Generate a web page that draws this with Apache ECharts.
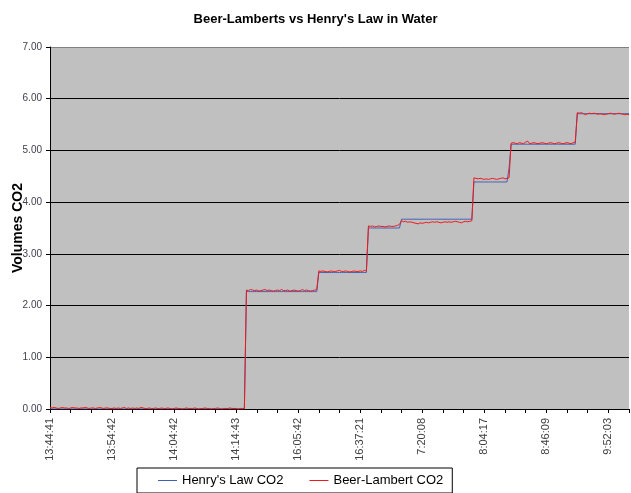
<!DOCTYPE html>
<html><head><meta charset="utf-8">
<script src="https://cdn.jsdelivr.net/npm/echarts@6/dist/echarts.min.js"></script>
<style>html,body{margin:0;padding:0;background:#fff}#c{width:631px;height:493px}</style>
</head><body><div id="c"></div>
<script>
// x tick labels (one every 30 samples)
var tickLabels = ['13:44:41','13:54:42','14:04:42','14:14:43','16:05:42','16:37:21','7:20:08','8:04:17','8:46:09','9:52:03'];
var seriesNames = ["Henry's Law CO2", 'Beer-Lambert CO2'];
var yTicks = [0,1,2,3,4,5,6,7];

var henry = [
0,0,0,0,0,0,0,0,0,0, 0,0,0,0,0,0,0,0,0,0, 0,0,0,0,0,0,0,0,0,0, 0,0,0,0,0,0,0,0,0,0,
0,0,0,0,0,0,0,0,0,0, 0,0,0,0,0,0,0,0,0,0, 0,0,0,0,0,0,0,0,0,0, 0,0,0,0,0,0,0,0,0,0,
0,0,0,0,0,0,0,0,0,0, 0,0,0,0,0,
2.27,2.27,2.27,2.27,2.27,2.27,2.27,2.27,2.27,2.27, 2.27,2.27,2.27,2.27,2.27,2.27,2.27,2.27,2.27,2.27,
2.27,2.27,2.27,2.27,2.27,2.27,2.27,2.27,2.27,2.27, 2.27,2.27,2.27,2.27,2.27,
2.64,2.64,2.64,2.64,2.64,2.64,2.64,2.64,2.64,2.64,2.64,2.64, 2.64,2.64,2.64,2.64,2.64,2.64,2.64,2.64,2.64,2.64,2.64,2.64,
3.50,3.50,3.50,3.50,3.50,3.50,3.50,3.50,3.50,3.50,3.50,3.50,3.50,3.50,3.50,3.50,
3.67,3.67,3.67,3.67,3.67,3.67,3.67,3.67,3.67,3.67, 3.67,3.67,3.67,3.67,3.67,3.67,3.67,3.67,3.67,3.67,
3.67,3.67,3.67,3.67,3.67,3.67,3.67,3.67,3.67,3.67, 3.67,3.67,3.67,3.67,3.67,
4.39,4.39,4.39,4.39,4.39,4.39,4.39,4.39,4.39,4.39,4.39,4.39,4.39,4.39,4.39,4.39,4.39,4.66,
5.12,5.12,5.12,5.12,5.12,5.12,5.12,5.12,5.12,5.12, 5.12,5.12,5.12,5.12,5.12,5.12,5.12,5.12,5.12,5.12,
5.12,5.12,5.12,5.12,5.12,5.12,5.12,5.12,5.12,5.12, 5.12,5.12,
5.71,5.71,5.71,5.71,5.71,5.71,5.71,5.71,5.71,5.71, 5.71,5.71,5.71,5.71,5.71,5.71,5.71,5.71,5.71,5.71,
5.71,5.71,5.71,5.71,5.71,5.71
];

var beer = [
0.03,0.02,0.03,0.02,0.01,0.02,0.03,0.02,0.02,0.01,
0.02,0.03,0.02,0.02,0.01,0.02,0.02,0.03,0.02,0.01,
0.02,0.02,0.01,0.02,0.03,0.02,0.01,0.02,0.02,0.01,
0.01,0.02,0.01,0.02,0.01,0.02,0.03,0.01,0.02,0.01,
0.02,0.01,0.02,0.01,0.03,0.02,0.01,0.01,0.02,0.01,
0.01,0.02,0.01,0.01,0.02,0.01,0.01,0.02,0.01,0.00,
0.01,0.02,0.01,0.01,0.00,0.01,0.02,0.01,0.01,0.01,
0.02,0.01,0.00,0.01,0.01,0.02,0.01,0.01,0.00,0.01,
0.01,0.02,0.01,0.00,0.01,0.01,0.01,0.02,0.01,0.01,
0.01,0.00,0.01,0.01,0.01,
2.30,2.29,2.31,2.30,2.29,2.30,2.28,2.29,2.30,2.31,
2.29,2.30,2.29,2.28,2.29,2.30,2.29,2.31,2.29,2.29,
2.30,2.28,2.29,2.30,2.29,2.28,2.29,2.31,2.29,2.30,
2.29,2.28,2.29,2.30,2.31,
2.67,2.66,2.67,2.66,2.65,2.66,2.67,2.66,2.66,2.67,2.68,2.66,
2.66,2.67,2.66,2.65,2.66,2.67,2.66,2.66,2.67,2.66,2.68,2.67,
3.54,3.53,3.54,3.52,3.53,3.54,3.53,3.53,3.52,3.53,3.54,3.53,3.53,3.54,3.55,3.57,
3.64,3.62,3.63,3.61,3.62,3.61,3.60,3.59,3.58,3.60,
3.59,3.60,3.61,3.60,3.61,3.62,3.61,3.62,3.61,3.60,
3.61,3.62,3.61,3.62,3.61,3.62,3.63,3.62,3.61,3.60,
3.62,3.63,3.62,3.63,3.64,
4.47,4.46,4.45,4.46,4.45,4.44,4.45,4.44,4.45,4.46,4.45,4.44,4.45,4.46,4.47,4.45,4.46,4.47,
5.14,5.15,5.14,5.13,5.15,5.14,5.13,5.16,5.18,5.13,
5.14,5.15,5.14,5.13,5.14,5.15,5.14,5.13,5.14,5.15,
5.14,5.13,5.14,5.15,5.14,5.13,5.14,5.15,5.14,5.13,
5.15,5.16,
5.73,5.72,5.73,5.71,5.69,5.71,5.72,5.71,5.72,5.71,
5.70,5.71,5.70,5.69,5.70,5.71,5.72,5.71,5.70,5.71,
5.72,5.71,5.70,5.69,5.70,5.69
];

var sans = "'Liberation Sans',Arial,sans-serif";
var chart = echarts.init(document.getElementById('c'), null, {renderer:'canvas'});
chart.setOption({
  animation:false,
  backgroundColor:'#fff',
  title:{text:"Beer-Lamberts vs Henry's Law in Water", left:'center', top:8,
    textStyle:{fontFamily:sans, fontSize:13, fontWeight:'bold', color:'#000'}},
  grid:{left:50, right:2, top:47, bottom:84, show:true, backgroundColor:'#C0C0C0', borderWidth:0,
    outerBoundsMode:'none', containLabel:false},
  legend:{left:137, top:468, orient:'horizontal', padding:[6,9,6,21], itemGap:26, itemWidth:19, itemHeight:1,
    icon:'rect', borderColor:'#000', borderWidth:1,
    textStyle:{fontFamily:sans, fontSize:13, color:'#000'},
    data:[{name:seriesNames[0], itemStyle:{color:'#4060B8'}}, {name:seriesNames[1], itemStyle:{color:'#F01818'}}]},
  xAxis:{type:'value', min:0, max:henry.length-1, interval:10,
    axisLine:{show:true, onZero:false, lineStyle:{color:'#000', width:1}},
    axisTick:{show:true, inside:false, length:4, lineStyle:{color:'#000'}},
    splitLine:{show:false},
    axisLabel:{rotate:90, margin:9, fontFamily:sans, fontSize:11, color:'#404040', hideOverlap:false,
      showMaxLabel:true, showMinLabel:true,
      formatter:function(v){ return (v%30===0 && tickLabels[v/30]) ? tickLabels[v/30] : ''; }}},
  yAxis:{type:'value', min:yTicks[0], max:yTicks[yTicks.length-1], interval:1,
    name:'Volumes CO2', nameLocation:'middle', nameGap:25, nameMoveOverlap:false,
    nameTextStyle:{fontFamily:sans, fontSize:14, fontWeight:'bold', color:'#000'},
    axisLine:{show:true, lineStyle:{color:'#000'}},
    axisTick:{show:true, length:4, lineStyle:{color:'#000'}},
    splitLine:{show:true, lineStyle:{color:['#000','#000','#000','#000','#000','#000','#000','#808080'], width:1}},
    axisLabel:{fontFamily:sans, fontSize:10, color:'#404050', margin:8,
      formatter:function(v){ return v.toFixed(2); }}},
  series:[
    {name:seriesNames[0], type:'line', showSymbol:false, symbol:'none', color:'#4060B8',
      lineStyle:{width:1, color:'#4060B8'}, data:henry.map(function(v,i){return [i,v];})},
    {name:seriesNames[1], type:'line', showSymbol:false, symbol:'none', color:'#F01818',
      lineStyle:{width:1, color:'#F01818'}, data:beer.map(function(v,i){return [i,v];})}
  ]
});
</script></body></html>
